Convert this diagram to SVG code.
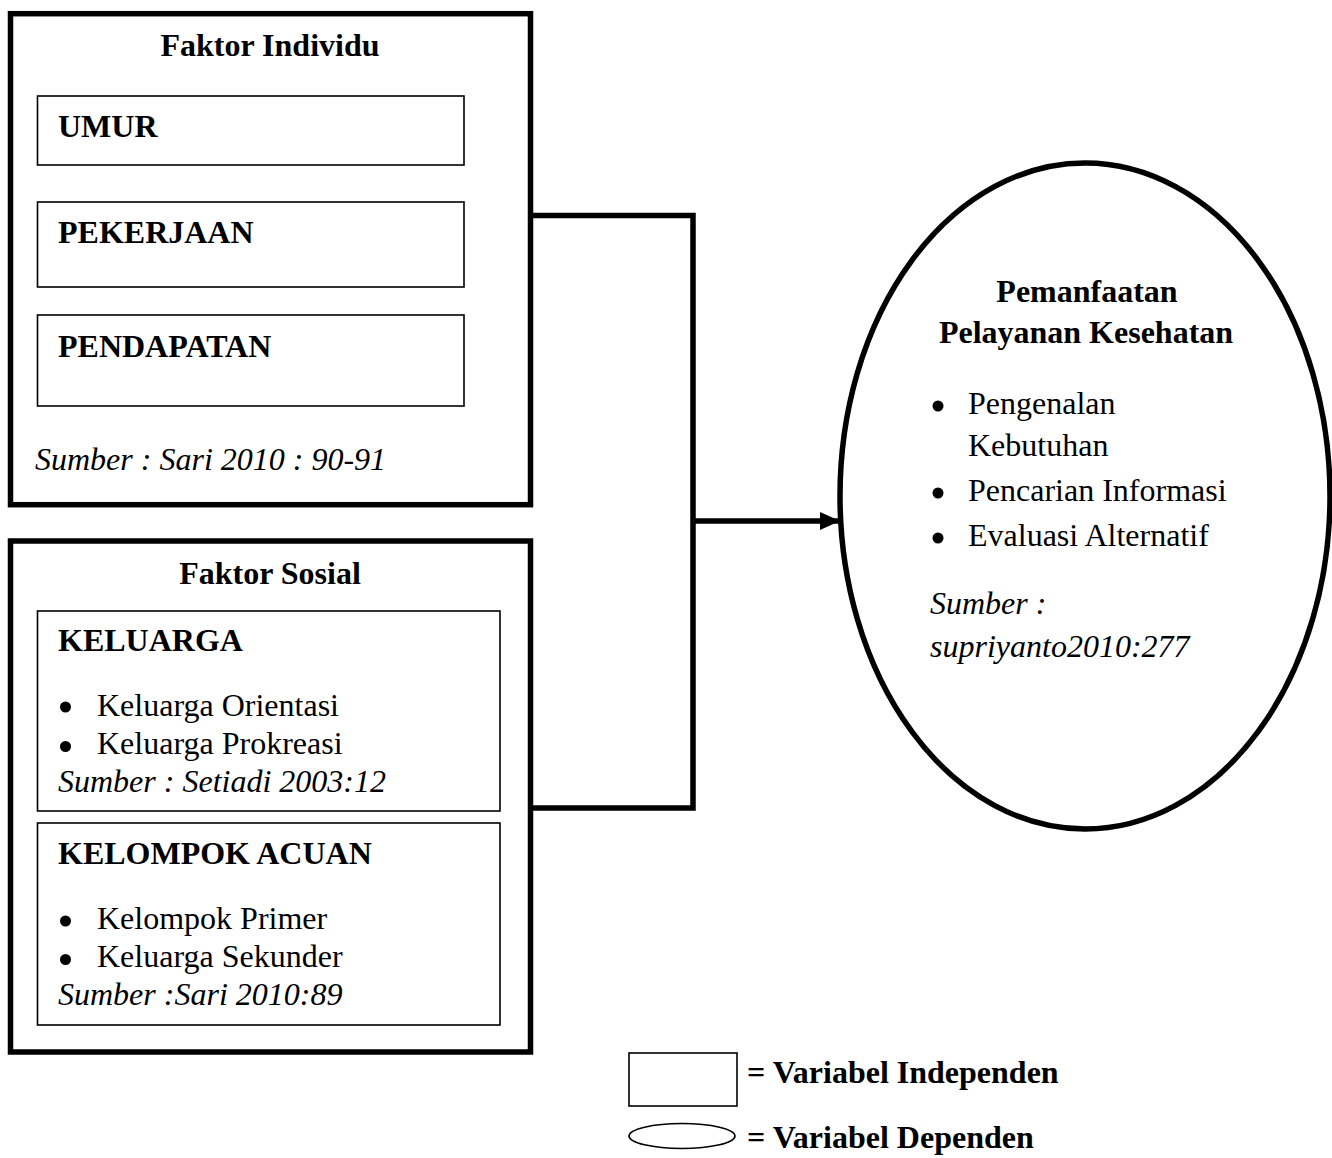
<svg xmlns="http://www.w3.org/2000/svg" width="1332" height="1158" viewBox="0 0 1332 1158">
<style>
  text { font-family: "Liberation Serif", "Times New Roman", serif; font-size: 32px; fill: #000; }
  .b { font-weight: bold; }
  .i { font-style: italic; }
  .mid { text-anchor: middle; }
  .outer { fill: #fff; stroke: #000; stroke-width: 5.5; }
  .inner { fill: #fff; stroke: #000; stroke-width: 1.6; }
  .conn { fill: none; stroke: #000; stroke-width: 5.5; stroke-linejoin: miter; }
  .dot { fill: #000; }
</style>
<defs>
  <marker id="arrow" markerUnits="userSpaceOnUse" markerWidth="22" markerHeight="20" refX="20" refY="9" orient="auto">
    <path d="M0,0 L20,9 L0,18 Z" fill="#000"/>
  </marker>
</defs>
<rect width="1332" height="1158" fill="#fff"/>

<g id="connectors">
  <path class="conn" d="M530,215.5 H693 V808 H530"/>
  <line class="conn" x1="693" y1="521" x2="840" y2="521" marker-end="url(#arrow)"/>
</g>

<g id="faktor-individu">
  <rect class="outer" x="10.5" y="13.7" width="520" height="491"/>
  <text class="b mid" x="270" y="56">Faktor Individu</text>
  <text class="i" x="35" y="470">Sumber : Sari 2010 : 90-91</text>
</g>
<g id="umur">
  <rect class="inner" x="37.5" y="96" width="426.5" height="69"/>
  <text class="b" x="58" y="137">UMUR</text>
</g>
<g id="pekerjaan">
  <rect class="inner" x="37.5" y="202" width="426.5" height="85"/>
  <text class="b" x="58" y="243">PEKERJAAN</text>
</g>
<g id="pendapatan">
  <rect class="inner" x="37.5" y="315" width="426.5" height="91"/>
  <text class="b" x="58" y="357">PENDAPATAN</text>
</g>

<g id="faktor-sosial">
  <rect class="outer" x="10.5" y="541" width="520" height="511"/>
  <text class="b mid" x="270" y="584">Faktor Sosial</text>
</g>
<g id="keluarga">
  <rect class="inner" x="37.5" y="611" width="462.5" height="200"/>
  <text class="b" x="58" y="651">KELUARGA</text>
  <circle class="dot" cx="65.5" cy="707" r="5.5"/>
  <text x="97" y="716">Keluarga Orientasi</text>
  <circle class="dot" cx="65.5" cy="746.5" r="5.5"/>
  <text x="97" y="754">Keluarga Prokreasi</text>
  <text class="i" x="58" y="792">Sumber : Setiadi 2003:12</text>
</g>
<g id="kelompok-acuan">
  <rect class="inner" x="37.5" y="823" width="462.5" height="202"/>
  <text class="b" x="58" y="864">KELOMPOK ACUAN</text>
  <circle class="dot" cx="65.5" cy="921" r="5.5"/>
  <text x="97" y="929">Kelompok Primer</text>
  <circle class="dot" cx="65.5" cy="959.5" r="5.5"/>
  <text x="97" y="967">Keluarga Sekunder</text>
  <text class="i" x="58" y="1005">Sumber :Sari 2010:89</text>
</g>

<g id="pemanfaatan">
  <ellipse cx="1085" cy="496" rx="245" ry="333" fill="#fff" stroke="#000" stroke-width="5.5"/>
  <text class="b mid" x="1087" y="302">Pemanfaatan</text>
  <text class="b mid" x="1086" y="343">Pelayanan Kesehatan</text>
  <circle class="dot" cx="938" cy="406" r="5.5"/>
  <text x="968" y="414">Pengenalan</text>
  <text x="968" y="456">Kebutuhan</text>
  <circle class="dot" cx="938" cy="493" r="5.5"/>
  <text x="968" y="501">Pencarian Informasi</text>
  <circle class="dot" cx="938" cy="538" r="5.5"/>
  <text x="968" y="546">Evaluasi Alternatif</text>
  <text class="i" x="930" y="614">Sumber :</text>
  <text class="i" x="930" y="657">supriyanto2010:277</text>
</g>

<g id="legend-independen">
  <rect class="inner" x="629" y="1053" width="108" height="53"/>
  <text class="b" x="747" y="1083">= Variabel Independen</text>
</g>
<g id="legend-dependen">
  <ellipse cx="682" cy="1136" rx="53" ry="12.5" fill="#fff" stroke="#000" stroke-width="1.6"/>
  <text class="b" x="747" y="1148">= Variabel Dependen</text>
</g>
</svg>
